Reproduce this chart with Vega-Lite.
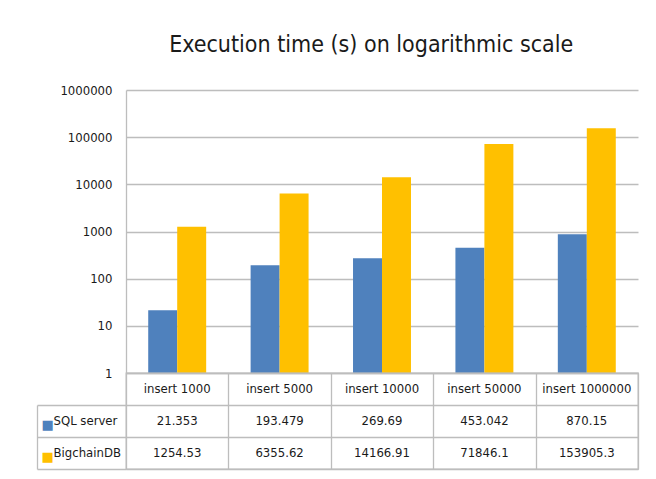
{
  "$schema": "https://vega.github.io/schema/vega-lite/v6.json",
  "padding": {"left": 35, "top": 34, "right": 5, "bottom": 5},
  "background": "white",
  "title": {
    "text": "Execution time (s) on logarithmic scale",
    "font": "DejaVu Sans Condensed, Liberation Sans",
    "fontSize": 23,
    "fontWeight": "normal",
    "color": "#1a1a1a",
    "anchor": "middle",
    "offset": 27,
    "dx": 34
  },
  "datasets": {
    "rows": [
      {"category": "insert 1000", "series": "SQL server", "value": 21.353},
      {"category": "insert 1000", "series": "BigchainDB", "value": 1254.53},
      {"category": "insert 5000", "series": "SQL server", "value": 193.479},
      {"category": "insert 5000", "series": "BigchainDB", "value": 6355.62},
      {"category": "insert 10000", "series": "SQL server", "value": 269.69},
      {"category": "insert 10000", "series": "BigchainDB", "value": 14166.91},
      {"category": "insert 50000", "series": "SQL server", "value": 453.042},
      {"category": "insert 50000", "series": "BigchainDB", "value": 71846.1},
      {"category": "insert 1000000", "series": "SQL server", "value": 870.15},
      {"category": "insert 1000000", "series": "BigchainDB", "value": 153905.3}
    ]
  },
  "spacing": 0,
  "bounds": "flush",
  "resolve": {"scale": {"x": "independent", "y": "independent"}},
  "config": {
    "font": "DejaVu Sans Condensed, Liberation Sans",
    "axis": {"labelFont": "DejaVu Sans Condensed, Liberation Sans"}
  },
  "vconcat": [
    {
      "width": 512,
      "height": 283,
      "view": {"stroke": null},
      "data": {"name": "rows"},
      "mark": {"type": "bar"},
      "encoding": {
        "x": {
          "field": "category", "type": "nominal",
          "sort": ["insert 1000", "insert 5000", "insert 10000", "insert 50000", "insert 1000000"],
          "scale": {"paddingInner": 0.434, "paddingOuter": 0.217},
          "axis": null
        },
        "xOffset": {
          "field": "series", "type": "nominal",
          "sort": ["SQL server", "BigchainDB"],
          "scale": {"paddingInner": 0, "paddingOuter": 0}
        },
        "y": {
          "field": "value", "type": "quantitative",
          "scale": {"type": "log", "domain": [1, 1000000], "nice": false},
          "axis": {
            "title": null,
            "values": [1, 10, 100, 1000, 10000, 100000, 1000000],
            "format": "d",
            "grid": true,
            "gridColor": "#bdbdbd",
            "gridWidth": 1.3,
            "domain": true,
            "domainColor": "#bdbdbd",
            "domainWidth": 1.3,
            "ticks": false,
            "labelPadding": 14,
            "labelFontSize": 13,
            "labelColor": "#1a1a1a"
          }
        },
        "y2": {"datum": 1},
        "color": {
          "field": "series", "type": "nominal",
          "scale": {"domain": ["SQL server", "BigchainDB"], "range": ["#4f81bd", "#ffc000"]},
          "legend": null
        }
      }
    },
    {
      "width": 512,
      "height": 96,
      "view": {"stroke": "#bdbdbd", "strokeWidth": 1.3},
      "data": {"name": "rows"},
      "encoding": {
        "x": {
          "field": "category", "type": "nominal",
          "sort": ["insert 1000", "insert 5000", "insert 10000", "insert 50000", "insert 1000000"],
          "scale": {"paddingInner": 0, "paddingOuter": 0},
          "axis": {
            "title": null, "labels": false, "domain": false, "ticks": false,
            "grid": true, "tickBand": "extent",
            "gridColor": "#bdbdbd", "gridWidth": 1.3
          }
        }
      },
      "layer": [
        {
          "mark": {"type": "text", "fontSize": 13, "color": "#1a1a1a"},
          "encoding": {
            "y": {
              "field": "series", "type": "nominal",
              "scale": {"domain": ["category", "SQL server", "BigchainDB"], "paddingInner": 0, "paddingOuter": 0},
              "axis": {
                "orient": "left",
                "title": null,
                "offset": 89,
                "domain": true,
                "domainColor": "#bdbdbd",
                "domainWidth": 1.3,
                "domainDash": [0, 32, 64, 0],
                "ticks": false,
                "grid": false,
                "labelAlign": "left",
                "labelPadding": -16,
                "labelFontSize": 13,
                "labelColor": "#1a1a1a",
                "labelExpr": "datum.value == 'category' ? '' : datum.value"
              }
            },
            "text": {"field": "value", "type": "nominal"}
          }
        },
        {
          "mark": {"type": "text", "opacity": 0},
          "encoding": {
            "y": {
              "field": "series", "type": "nominal",
              "axis": {
                "orient": "left",
                "title": null,
                "offset": 0,
                "domain": false,
                "ticks": true,
                "tickSize": 89,
                "tickBand": "extent",
                "tickColor": {"condition": {"test": "datum.extra || datum.index < 0", "value": "transparent"}, "value": "#bdbdbd"},
                "tickWidth": 1.3,
                "grid": true,
                "gridColor": "#bdbdbd",
                "gridWidth": 1.3,
                "labelAlign": "left",
                "labelPadding": -4,
                "labelOffset": 3,
                "labelFont": "DejaVu Sans",
                "labelFontSize": 13,
                "labelColor": {"condition": {"test": "datum.value == 'SQL server'", "value": "#4f81bd"}, "value": "#ffc000"},
                "labelExpr": "(datum.value == 'SQL server' || datum.value == 'BigchainDB') ? '■' : ''"
              }
            },
            "text": {"field": "value", "type": "nominal"}
          }
        },
        {
          "transform": [{"filter": "datum.series == 'SQL server'"}],
          "mark": {"type": "text", "fontSize": 13, "color": "#1a1a1a"},
          "encoding": {
            "y": {"datum": "category", "type": "nominal", "axis": null},
            "text": {"field": "category", "type": "nominal"}
          }
        }
      ],
      "resolve": {"axis": {"y": "independent"}}
    }
  ]
}
